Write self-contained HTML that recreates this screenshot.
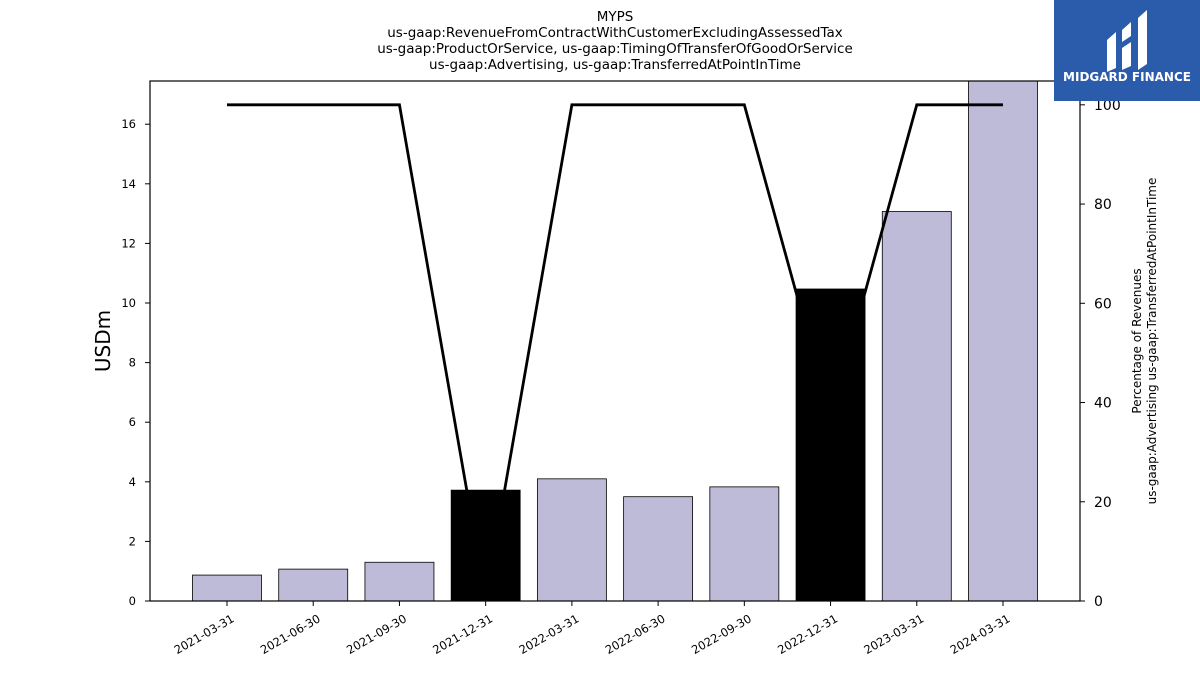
<!DOCTYPE html>
<html><head><meta charset="utf-8"><style>
body{margin:0;background:#fff;}
svg{font-family:"DejaVu Sans","Liberation Sans",sans-serif;}
</style></head><body>
<svg id="chart" width="1200" height="675" xmlns="http://www.w3.org/2000/svg">
<g font-size="13.5" text-anchor="middle" fill="#000">
<text x="615" y="21">MYPS</text>
<text x="615" y="37">us-gaap:RevenueFromContractWithCustomerExcludingAssessedTax</text>
<text x="615" y="53">us-gaap:ProductOrService, us-gaap:TimingOfTransferOfGoodOrService</text>
<text x="615" y="69">us-gaap:Advertising, us-gaap:TransferredAtPointInTime</text>
</g>
<g id="bars-bg"></g><g id="line-g"></g><g id="bars-fg"></g><g id="axes"></g>
<rect x="150" y="81" width="930" height="520" fill="none" stroke="#000" stroke-width="1.2"/>
<text x="110" y="341" font-size="20" text-anchor="middle" transform="rotate(-90 110 341)">USDm</text>
<text x="1141" y="341" font-size="12" text-anchor="middle" transform="rotate(-90 1141 341)">Percentage of Revenues</text>
<text x="1156" y="341" font-size="12" text-anchor="middle" transform="rotate(-90 1156 341)">us-gaap:Advertising us-gaap:TransferredAtPointInTime</text>
<g>
<rect x="1054" y="0" width="146" height="101" fill="#2b5bab"/>
<path d="M1107 40 L1116 32 L1116 68 L1107 72 Z M1122 30 L1131 22 L1131 36 L1122 42 Z M1122 48 L1131 42 L1131 66 L1122 70 Z M1138 18 L1147 10 L1147 64 L1138 70 Z" fill="#fff"/>
<text x="1127" y="81" font-size="12" font-weight="bold" fill="#fff" text-anchor="middle">MIDGARD FINANCE</text>
</g>
</svg>
<script>
const categories=["2021-03-31","2021-06-30","2021-09-30","2021-12-31","2022-03-31","2022-06-30","2022-09-30","2022-12-31","2023-03-31","2024-03-31"];
const revenue=[0.87,1.07,1.3,3.72,4.1,3.5,3.83,10.47,13.07,18.0];
const highlighted=[false,false,false,true,false,false,false,true,false,false];
const percent=[100,100,100,0.5,100,100,100,37,100,100];
const leftTicks=[0,2,4,6,8,10,12,14,16];
const rightTicks=[0,20,40,60,80,100];
const NS="http://www.w3.org/2000/svg";
const L=150,R=1080,T=81,B=601;
const yL=v=>B-v*(B-T)/17.45;
const yR=v=>B-v*(B-T)/104.8;
const step=(1003-227)/9;
const xC=i=>227+i*step;
const bw=69;
function mk(tag,attrs,parent){const e=document.createElementNS(NS,tag);for(const k in attrs)e.setAttribute(k,attrs[k]);parent.appendChild(e);return e;}
const bg=document.getElementById('bars-bg'),fg=document.getElementById('bars-fg'),ax=document.getElementById('axes'),lg=document.getElementById('line-g');
categories.forEach((c,i)=>{
  const top=Math.max(yL(revenue[i]),T);
  const r=mk('rect',{x:xC(i)-bw/2,y:top,width:bw,height:B-top,fill:highlighted[i]?'#000':'#bebbd9',stroke:'#000','stroke-width':0.8},highlighted[i]?fg:bg);
  
  
  const t=mk('line',{x1:xC(i),x2:xC(i),y1:B,y2:B+5,stroke:'#000'},ax);
  
  
  const lb=mk('text',{x:xC(i)+8,y:B+20,'font-size':11.5,'text-anchor':'end',transform:`rotate(-30 ${xC(i)+8} ${B+20})`},ax);
  lb.textContent=c;
  
  
});
const pts=percent.map((p,i)=>xC(i)+','+yR(p)).join(' ');
const pl=mk('polyline',{points:pts,fill:'none',stroke:'#000','stroke-width':2.8},lg);


leftTicks.forEach(v=>{
  const t=mk('line',{x1:L-5,x2:L,y1:yL(v),y2:yL(v),stroke:'#000'},ax);
  
  
  const lb=mk('text',{x:L-14,y:yL(v)+4,'font-size':11.5,'text-anchor':'end'},ax);
  lb.textContent=v;
  
  
});
rightTicks.forEach(v=>{
  const t=mk('line',{x1:R,x2:R+5,y1:yR(v),y2:yR(v),stroke:'#000'},ax);
  
  
  const lb=mk('text',{x:R+14,y:yR(v)+5,'font-size':14},ax);
  lb.textContent=v;
  
  
});
</script>
</body></html>
